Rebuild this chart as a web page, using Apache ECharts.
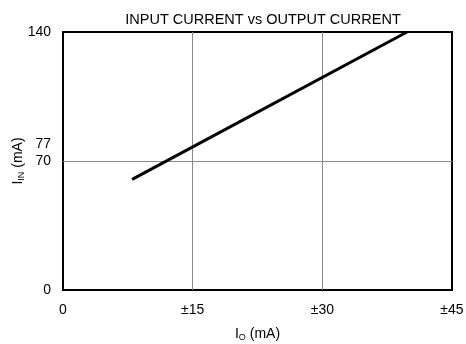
<!DOCTYPE html>
<html><head><meta charset="utf-8">
<script src="https://cdn.jsdelivr.net/npm/echarts@6/dist/echarts.min.js"></script>
<style>html,body{margin:0;padding:0;background:#fff}#c{width:466px;height:344px}</style>
</head><body><div id="c"></div>
<script>
const ioValues = [8, 39.8];
const iinValues = [60, 140];
const xTicks = [0, 15, 30, 45];
const xTickLabels = ['0', '±15', '±30', '±45'];
const yTicks = [0, 70, 77, 140];
const xGrid = [15, 30];
const yGrid = [70];

const chart = echarts.init(document.getElementById('c'));
const font = 'Liberation Sans, Arial, sans-serif';
chart.setOption({
  animation: false,
  title: {
    text: 'INPUT CURRENT vs OUTPUT CURRENT',
    left: 258, textAlign: 'center', top: 7,
    textStyle: {fontFamily: font, fontSize: 14.5, fontWeight: 'normal', color: '#000'}
  },
  grid: {left: 63, right: 14, top: 32, bottom: 54, show: true, borderColor: '#000', borderWidth: 2,
         outerBoundsMode: 'none', containLabel: false},
  xAxis: {
    type: 'value', min: 0, max: 45, interval: 15,
    axisLine: {show: false}, axisTick: {show: false}, splitLine: {show: false},
    axisLabel: {
      margin: 13, fontFamily: font, fontSize: 14, color: '#000',
      formatter: v => xTickLabels[xTicks.indexOf(v)] ?? ''
    },
    name: '{a|I}{s|O}{a| (mA)}', nameLocation: 'middle', nameGap: 36, nameMoveOverlap: false,
    nameTextStyle: {rich: {
      a: {fontFamily: font, fontSize: 14, color: '#000'},
      s: {fontFamily: font, fontSize: 9, color: '#000', verticalAlign: 'bottom', padding: [7, 0, 0, 0]}
    }}
  },
  yAxis: {
    type: 'value', min: 0, max: 140,
    axisLine: {show: false}, axisTick: {show: false}, splitLine: {show: false},
    axisLabel: {
      customValues: yTicks, margin: 12, fontFamily: font, fontSize: 14, color: '#000',
      formatter: v => v === 77 ? '{u|77}' : String(v),
      rich: {u: {fontFamily: font, fontSize: 14, color: '#000', padding: [0, 0, 8, 0]}}
    },
    name: '{a|I}{s|IN}{a| (mA)}', nameLocation: 'middle', nameGap: 37, nameMoveOverlap: false,
    nameTextStyle: {rich: {
      a: {fontFamily: font, fontSize: 14, color: '#000'},
      s: {fontFamily: font, fontSize: 9, color: '#000', verticalAlign: 'bottom', padding: [7, 0, 0, 0]}
    }}
  },
  series: [{
    type: 'line',
    data: ioValues.map((x, i) => [x, iinValues[i]]),
    symbol: 'none',
    lineStyle: {color: '#000', width: 3},
    z: 5,
    markLine: {
      silent: true, symbol: 'none', label: {show: false},
      lineStyle: {color: '#888', width: 1, type: 'solid'},
      data: [...xGrid.map(v => ({xAxis: v})), ...yGrid.map(v => ({yAxis: v}))]
    }
  }]
});
</script></body></html>
